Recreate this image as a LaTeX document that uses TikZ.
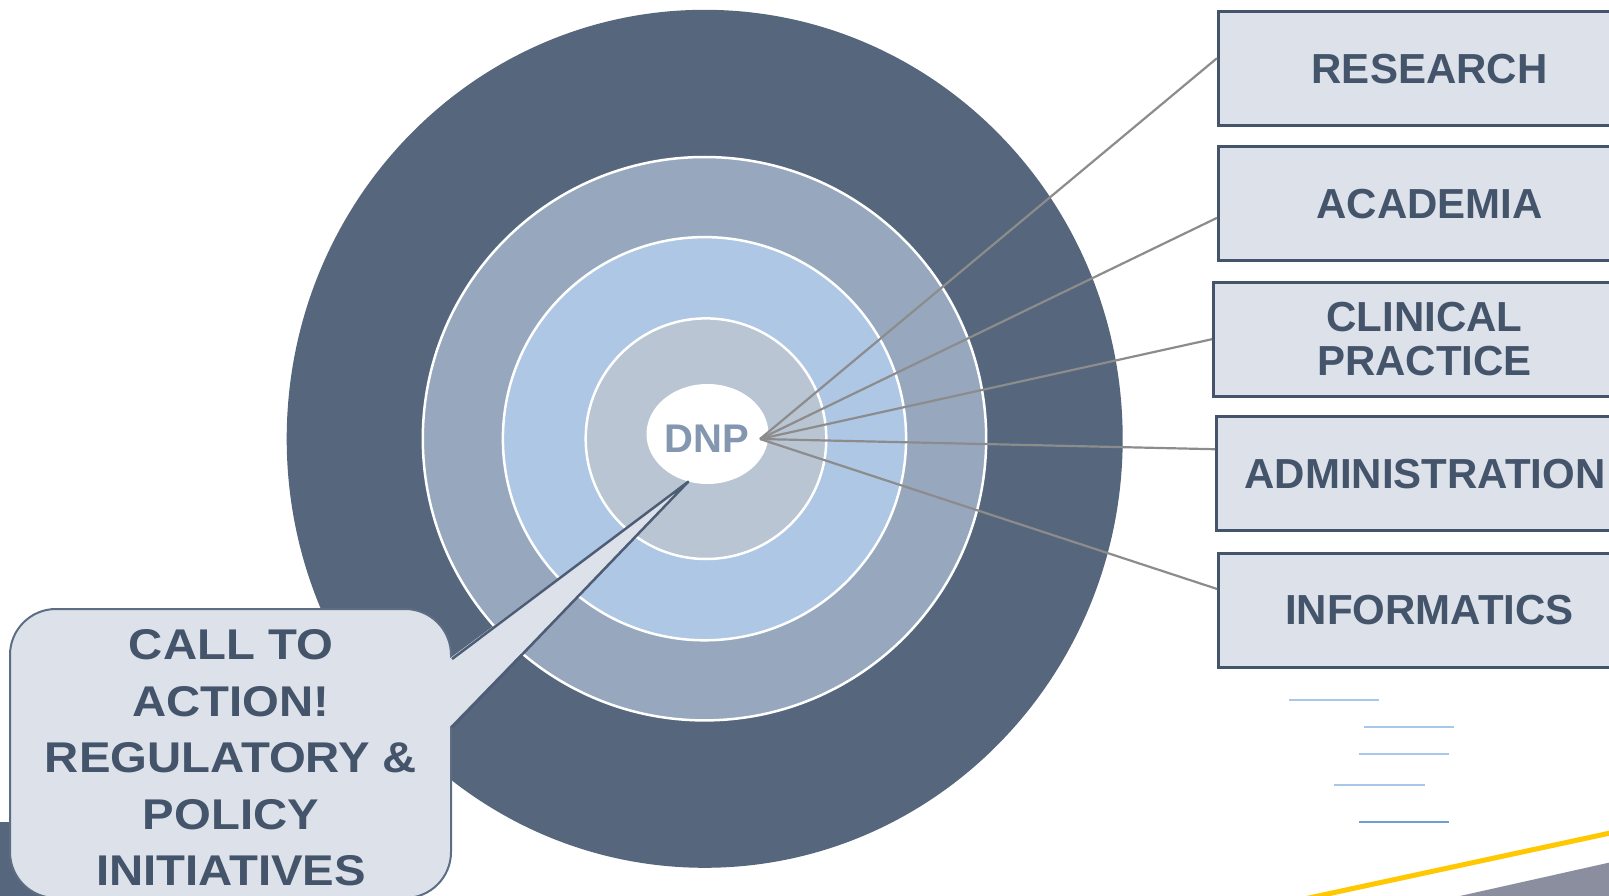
\documentclass[tikz,border=0pt]{standalone}
\usepackage{fontspec}
\setmainfont{Liberation Sans}
\newfontfamily\callfont[FakeStretch=1.1]{Liberation Sans}
\usetikzlibrary{calc,shapes.geometric}

\definecolor{slate}{HTML}{55667D}
\definecolor{ringmid}{HTML}{97A8BE}
\definecolor{ringsky}{HTML}{AEC7E4}
\definecolor{ringpale}{HTML}{B9C5D3}
\definecolor{boxfill}{HTML}{DDE2EA}
\definecolor{ink}{HTML}{44546A}
\definecolor{dnpink}{HTML}{8497B0}
\definecolor{wire}{HTML}{8C8C8C}
\definecolor{callline}{HTML}{5D6D84}
\definecolor{tailline}{HTML}{4D5D75}
\definecolor{gold}{HTML}{FFC800}
\definecolor{steel}{HTML}{8A8E9F}
\definecolor{linkpale}{HTML}{A8C8EA}
\definecolor{linkblue}{HTML}{6C9FD6}

\begin{document}
\begin{tikzpicture}[x=1pt,y=-1pt,
  ring/.style={draw=white, line width=2.5pt},
  areabox/.style={draw=ink, line width=3pt, fill=boxfill, text=ink,
    font=\bfseries\fontsize{42}{44.3}\selectfont, align=center, anchor=west,
    minimum height=114pt, minimum width=422pt, inner sep=0pt},
  wireline/.style={draw=wire, line width=2.2pt},
  linkline/.style={line width=2pt}
]
\useasboundingbox (0,0) rectangle (1609,896);

% corner decorations
\fill[slate] (0,822) rectangle (70,896);
\fill[steel] (1455,897.1) -- (1620,860.2) -- (1620,900) -- (1455,900) -- cycle;
\draw[gold, line width=5pt] (1300,899.9) -- (1620,830.9);

% concentric target
\fill[slate] (704.7,438.8) ellipse [x radius=418, y radius=429];
\filldraw[ring, fill=ringmid] (704.5,438.7) circle [radius=281.7];
\filldraw[ring, fill=ringsky] (704.5,438.7) circle [radius=201.6];
\filldraw[ring, fill=ringpale] (706,438.7) circle [radius=120.3];
\node[ellipse, fill=white, minimum width=122pt, minimum height=100pt, inner sep=0pt] (dnp) at (707.5,434) {};
\node[text=dnpink, font=\bfseries\fontsize{40}{40}\selectfont, inner sep=0pt] (dnptxt) at (707,438.3) {DNP};
\coordinate (hub) at (760,439);

% practice areas
\node[areabox] (research) at (1217,68.7) {RESEARCH};
\node[areabox] (academia) at (1217,203.8) {ACADEMIA};
\node[areabox] (clinical) at (1212,339.2) {CLINICAL\\PRACTICE};
\node[areabox, minimum width=417pt] (admin) at (1215,473.8) {ADMINISTRATION};
\node[areabox] (informatics) at (1217,610) {INFORMATICS};

\draw[wireline] (hub) -- ($(research.north west)!0.41!(research.south west)$);
\draw[wireline] (hub) -- ($(academia.north west)!0.62!(academia.south west)$);
\draw[wireline] (hub) -- ($(clinical.north west)!0.50!(clinical.south west)$);
\draw[wireline] (hub) -- ($(admin.north west)!0.29!(admin.south west)$);
\draw[wireline] (hub) -- ($(informatics.north west)!0.32!(informatics.south west)$);

% callout with its pointer
\node[draw=callline, line width=2pt, fill=boxfill, rounded corners=46pt,
  minimum width=441pt, minimum height=289pt, inner sep=0pt] (call) at (230.5,753.5) {};
\coordinate (tip) at (688.3,481.7);
\coordinate (tailtop) at ($(call.north east)+(0,51)$);
\coordinate (tailbot) at ($(call.north east)+(0,119.5)$);
\fill[boxfill] ($(tailtop)+(-3,0)$) -- (tip) -- ($(tailbot)+(-3,0)$) -- cycle;
\draw[tailline, line width=2.5pt, line join=round] (tailtop) -- (tip) -- (tailbot);
\node[text=ink, font=\callfont\bfseries\fontsize{43}{56.5}\selectfont, align=center, inner sep=0pt]
  (calltxt) at (231,758) {CALL TO\\ACTION!\\REGULATORY \&\\POLICY\\INITIATIVES};

% link underlines
\draw[linkline, linkpale] (1289,700) -- (1379,700);
\draw[linkline, linkpale] (1364,727) -- (1454,727);
\draw[linkline, linkpale] (1359,753.5) -- (1449,753.5);
\draw[linkline, linkpale] (1334,785) -- (1425,785);
\draw[linkline, linkblue] (1359,821.5) -- (1449,821.5);
\end{tikzpicture}
\end{document}
